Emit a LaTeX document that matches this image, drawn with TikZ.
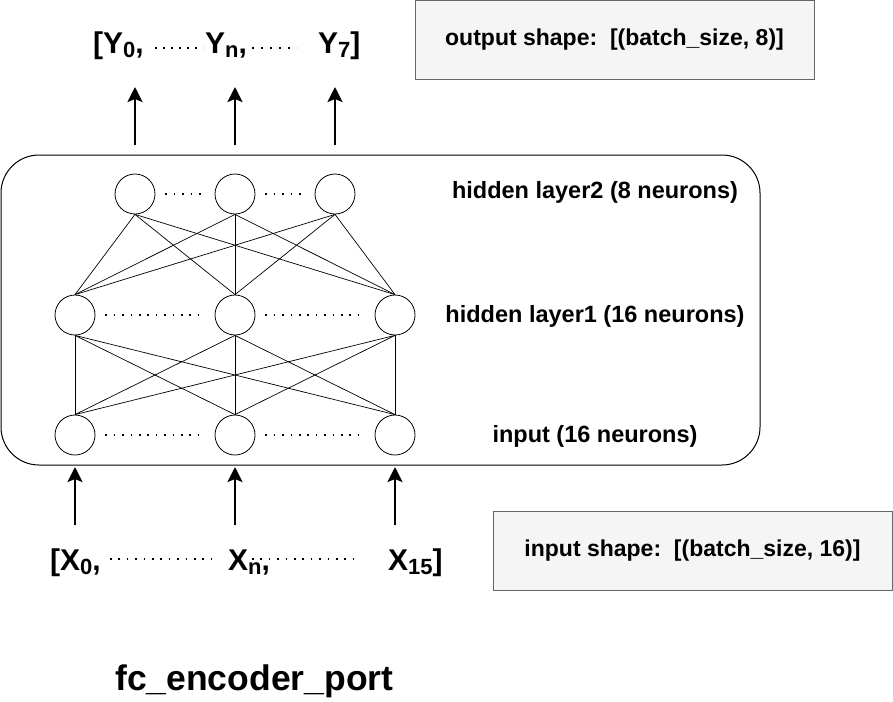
\documentclass[tikz,border=0pt]{standalone}
\usepackage{fontspec}
\setmainfont{Liberation Sans}
\usetikzlibrary{arrows.meta}
\definecolor{boxfill}{HTML}{F5F5F5}
\definecolor{boxline}{HTML}{666666}

\tikzset{
  neuron/.style={draw, circle, minimum size=40pt, inner sep=0pt, line width=0.8pt},
  link/.style={line width=0.7pt},
  dotrow/.style={line width=1.6pt, dash pattern=on 1.6pt off 6.8pt},
  port/.style={-{Stealth[length=15pt,width=15pt,inset=3pt]}, line width=2.6pt},
  shapebox/.style={draw=boxline, fill=boxfill, line width=1pt,
    minimum width=399pt, minimum height=79pt,
    font=\fontsize{23}{28}\selectfont\bfseries},
  layername/.style={font=\fontsize{23.5}{28}\selectfont\bfseries,
    anchor=base, inner sep=0pt},
  vecname/.style={font=\fontsize{30}{36}\selectfont\bfseries,
    anchor=base west, inner sep=0pt},
}
\newcommand{\lowsub}[1]{\raisebox{-4pt}{\fontsize{22}{26}\selectfont #1}}

\begin{document}
\begin{tikzpicture}[x=1pt,y=-1pt]
\useasboundingbox (0,0) rectangle (893,701);

% the network frame
\draw [line width=1pt, rounded corners=38pt] (1,155) rectangle (760,465);

% neurons
\node [neuron] (h2a) at (135,194) {};
\node [neuron] (h2b) at (235,194) {};
\node [neuron] (h2c) at (335,194) {};

\node [neuron] (h1a) at (75,315) {};
\node [neuron] (h1b) at (235,315) {};
\node [neuron] (h1c) at (395,315) {};

\node [neuron] (ina) at (75,435) {};
\node [neuron] (inb) at (235,435) {};
\node [neuron] (inc) at (395,435) {};

% full connections
\foreach \u in {h2a,h2b,h2c}
  \foreach \l in {h1a,h1b,h1c}
    \draw [link] (\u.south) -- (\l.north);
\foreach \u in {h1a,h1b,h1c}
  \foreach \l in {ina,inb,inc}
    \draw [link] (\u.south) -- (\l.north);

% dots between neurons
\draw [dotrow, shorten <=10pt, shorten >=11pt] (h2a.east) -- (h2b.west);
\draw [dotrow, shorten <=10pt, shorten >=11pt] (h2b.east) -- (h2c.west);
\draw [dotrow, shorten <=10pt, shorten >=11pt] (h1a.east) -- (h1b.west);
\draw [dotrow, shorten <=10pt, shorten >=11pt] (h1b.east) -- (h1c.west);
\draw [dotrow, shorten <=10pt, shorten >=11pt] (ina.east) -- (inb.west);
\draw [dotrow, shorten <=10pt, shorten >=11pt] (inb.east) -- (inc.west);

% layer names
\node [layername] (l2name) at (595,198) {hidden layer2 (8 neurons)};
\node [layername] (l1name) at (595,322) {hidden layer1 (16 neurons)};
\node [layername] (inname) at (595,442) {input (16 neurons)};

% output vector
\node [vecname] (y0) at (93,53) {[Y\lowsub{0},};
\node [vecname] (yn) at (205,53) {Y\lowsub{n},};
\node [vecname] (y7) at (318,53) {Y\lowsub{7}]};
\draw [dotrow, dash pattern=on 1.6pt off 6.4pt] (155,48) -- (203,48);
\draw [dotrow, dash pattern=on 1.6pt off 7.4pt] (252,48) -- (297,48);

\foreach \x [count=\i] in {135,235,335} {
  \coordinate (ytail\i) at (\x,145);
  \coordinate (yhead\i) at (\x,87);
  \draw [port] (ytail\i) -- (yhead\i);
}

% input vector
\node [vecname] (x0) at (50,570) {[X\lowsub{0},};
\node [vecname] (xn) at (228,570) {X\lowsub{n},};
\node [vecname] (x15) at (388,570) {X\lowsub{15}]};
\draw [dotrow] (110,559) -- (213,559);
\draw [dotrow] (252,559) -- (358,559);

\foreach \x [count=\i] in {75,235,395} {
  \coordinate (xtail\i) at (\x,525);
  \coordinate (xhead\i) at (\x,467);
  \draw [port] (xtail\i) -- (xhead\i);
}

% shape boxes
\node [shapebox] (outbox) at (614.5,40) {output shape:\ \ [(batch\_size, 8)]};
\node [shapebox] (inbox) at (692.5,550.5) {input shape:\ \ [(batch\_size, 16)]};

% some text
\node [anchor=base west, inner sep=0pt, font=\fontsize{35.5}{42}\selectfont\bfseries]
  (title) at (115,690) {fc\_encoder\_port};

\end{tikzpicture}
\end{document}
